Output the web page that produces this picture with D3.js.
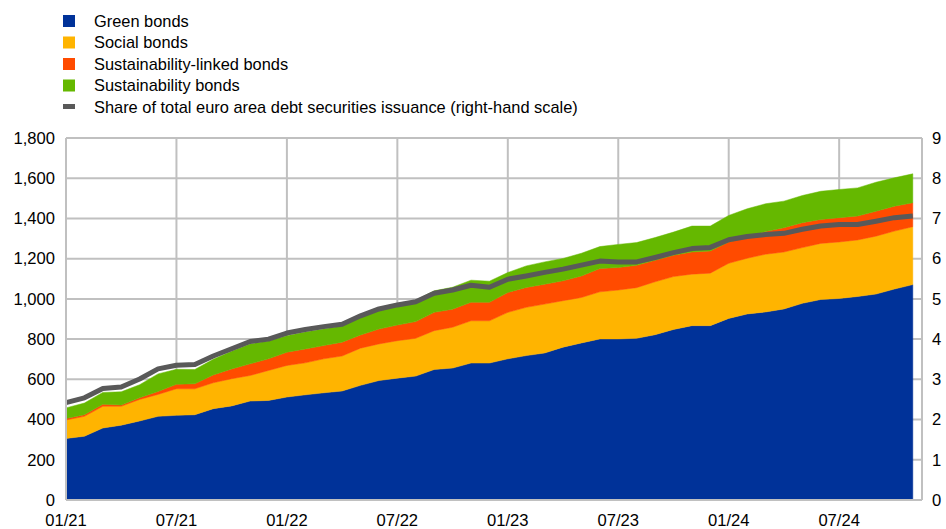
<!DOCTYPE html>
<html>
<head>
<meta charset="utf-8">
<script src="https://cdn.jsdelivr.net/npm/d3@7"></script>
<style>
  body { margin: 0; background: #fff; }
  text { font-family: "Liberation Sans", Arial, sans-serif; fill: #000; }
</style>
</head>
<body>
<div id="chart"></div>
<script>
// monthly, 01/21 - 11/24, EUR billions (left) and % (right)
var months = ["01/21","02/21","03/21","04/21","05/21","06/21","07/21","08/21","09/21","10/21","11/21","12/21",
              "01/22","02/22","03/22","04/22","05/22","06/22","07/22","08/22","09/22","10/22","11/22","12/22",
              "01/23","02/23","03/23","04/23","05/23","06/23","07/23","08/23","09/23","10/23","11/23","12/23",
              "01/24","02/24","03/24","04/24","05/24","06/24","07/24","08/24","09/24","10/24","11/24"];

var greenBonds = [306,317,358,372,393,416,421,424,454,468,492,495,
                  512,523,533,542,570,594,606,616,649,656,681,681,
                  702,718,731,760,781,801,801,804,822,848,867,867,
                  903,925,935,950,978,997,1002,1012,1024,1049,1071];
var socialBonds = [92,99,108,94,107,109,132,129,129,135,127,149,
                   157,159,169,174,185,182,186,188,193,203,210,210,
                   231,240,243,231,226,234,243,252,263,263,256,261,
                   274,277,287,283,277,279,281,281,288,288,288];
var slBonds = [7,8,10,6,8,15,22,25,39,49,58,58,
               66,69,66,69,66,74,78,83,91,90,92,92,
               99,99,99,99,107,116,112,111,107,106,110,110,
               106,103,113,121,124,119,121,119,124,124,119];
var sustBonds = [53,58,59,66,65,87,75,71,78,88,99,88,
                 82,84,82,80,91,100,105,106,107,109,110,105,
                 99,107,111,111,113,109,115,113,113,115,129,124,
                 132,143,138,132,135,140,140,140,144,141,144];
var shareTotal = [2.42,2.54,2.77,2.81,3.01,3.26,3.35,3.37,3.58,3.76,3.94,4.0,
                  4.15,4.24,4.31,4.37,4.58,4.75,4.85,4.93,5.14,5.22,5.34,5.29,
                  5.49,5.57,5.66,5.74,5.84,5.94,5.92,5.92,6.03,6.15,6.25,6.28,
                  6.47,6.55,6.6,6.63,6.73,6.81,6.85,6.85,6.93,7.02,7.06];

var seriesNames = ["Green bonds", "Social bonds", "Sustainability-linked bonds", "Sustainability bonds"];
var lineName = "Share of total euro area debt securities issuance (right-hand scale)";
var colors = ["#003299", "#ffb400", "#ff4b00", "#65b800"];
var lineColor = "#595959";

var xTickLabels = ["01/21","07/21","01/22","07/22","01/23","07/23","01/24","07/24"];
var leftTicks = [0,200,400,600,800,1000,1200,1400,1600,1800];
var rightTicks = [0,1,2,3,4,5,6,7,8,9];

var W = 946, H = 529;
var margin = {top: 138, right: 24, bottom: 29, left: 66},
    width = W - margin.left - margin.right,
    height = H - margin.top - margin.bottom;

var svg = d3.select("#chart")
  .append("svg")
    .attr("width", W)
    .attr("height", H);

var table = months.map(function(m, i) {
  return {m: m, i: i, g: greenBonds[i], s: socialBonds[i], sl: slBonds[i], su: sustBonds[i]};
});

var x = d3.scaleLinear()
  .domain([0, months.length - 0.5])
  .range([margin.left, margin.left + width]);

var y = d3.scaleLinear()
  .domain([0, 1800])
  .range([margin.top + height, margin.top]);

var y2 = d3.scaleLinear()
  .domain([0, 9])
  .range([margin.top + height, margin.top]);

var grid = svg.append("g").attr("stroke", "#c0c0c0").attr("stroke-width", 2);

grid.selectAll("line.h")
  .data(leftTicks.slice(1))
  .enter()
  .append("line")
    .attr("x1", x(0)).attr("x2", x(months.length - 0.5))
    .attr("y1", function(d) { return y(d); })
    .attr("y2", function(d) { return y(d); });

grid.selectAll("line.v")
  .data(xTickLabels)
  .enter()
  .append("line")
    .attr("x1", function(d) { return x(months.indexOf(d)); })
    .attr("x2", function(d) { return x(months.indexOf(d)); })
    .attr("y1", y(0)).attr("y2", y(1800));

grid.append("line")
  .attr("x1", x(months.length - 0.5)).attr("x2", x(months.length - 0.5))
  .attr("y1", y(0)).attr("y2", y(1800));

var stack = d3.stack().keys(["g", "s", "sl", "su"]);
var layers = stack(table);

var area = d3.area()
  .x(function(d) { return x(d.data.i); })
  .y0(function(d) { return y(d[0]); })
  .y1(function(d) { return y(d[1]); });

svg.append("g")
  .selectAll("path")
  .data(layers)
  .enter()
  .append("path")
    .attr("d", area)
    .attr("fill", function(d, i) { return colors[i]; })
    .attr("stroke", function(d, i) { return colors[i]; })
    .attr("stroke-width", 0.5);

svg.append("path")
  .datum(shareTotal)
  .attr("fill", "none")
  .attr("stroke", lineColor)
  .attr("stroke-width", 5)
  .attr("stroke-linejoin", "round")
  .attr("d", d3.line()
    .x(function(d, i) { return x(i); })
    .y(function(d) { return y2(d); }));

// axis lines
svg.append("line")
  .attr("x1", x(0)).attr("x2", x(months.length - 0.5))
  .attr("y1", y(0)).attr("y2", y(0))
  .attr("stroke", "#c0c0c0").attr("stroke-width", 2);
svg.append("line")
  .attr("x1", x(0)).attr("x2", x(0))
  .attr("y1", y(0)).attr("y2", y(1800))
  .attr("stroke", "#c0c0c0").attr("stroke-width", 2);

// tick labels
svg.append("g")
  .selectAll("text")
  .data(leftTicks)
  .enter()
  .append("text")
    .attr("x", 55)
    .attr("y", function(d) { return y(d); })
    .attr("dy", "0.35em")
    .attr("text-anchor", "end")
    .style("font-size", "16.6px")
    .text(function(d) { return d3.format(",")(d); });

svg.append("g")
  .selectAll("text")
  .data(rightTicks)
  .enter()
  .append("text")
    .attr("x", 932)
    .attr("y", function(d) { return y2(d); })
    .attr("dy", "0.35em")
    .style("font-size", "16.6px")
    .text(function(d) { return d; });

svg.append("g")
  .selectAll("text")
  .data(xTickLabels)
  .enter()
  .append("text")
    .attr("x", function(d) { return x(months.indexOf(d)); })
    .attr("y", 520)
    .attr("dy", "0.35em")
    .attr("text-anchor", "middle")
    .style("font-size", "16.6px")
    .text(function(d) { return d; });

// legend
var legend = svg.append("g");
seriesNames.forEach(function(name, i) {
  var cy = 21 + i * 21.5;
  legend.append("rect")
    .attr("x", 63).attr("y", cy - 6)
    .attr("width", 12).attr("height", 12)
    .attr("fill", colors[i]);
  legend.append("text")
    .attr("x", 94).attr("y", cy)
    .attr("dy", "0.35em")
    .style("font-size", "16.4px")
    .text(name);
});
legend.append("rect")
  .attr("x", 63).attr("y", 21 + 4 * 21.5 - 3)
  .attr("width", 12).attr("height", 5)
  .attr("fill", lineColor);
legend.append("text")
  .attr("x", 94).attr("y", 21 + 4 * 21.5)
  .attr("dy", "0.35em")
  .style("font-size", "16.4px")
  .text(lineName);
</script>
</body>
</html>
